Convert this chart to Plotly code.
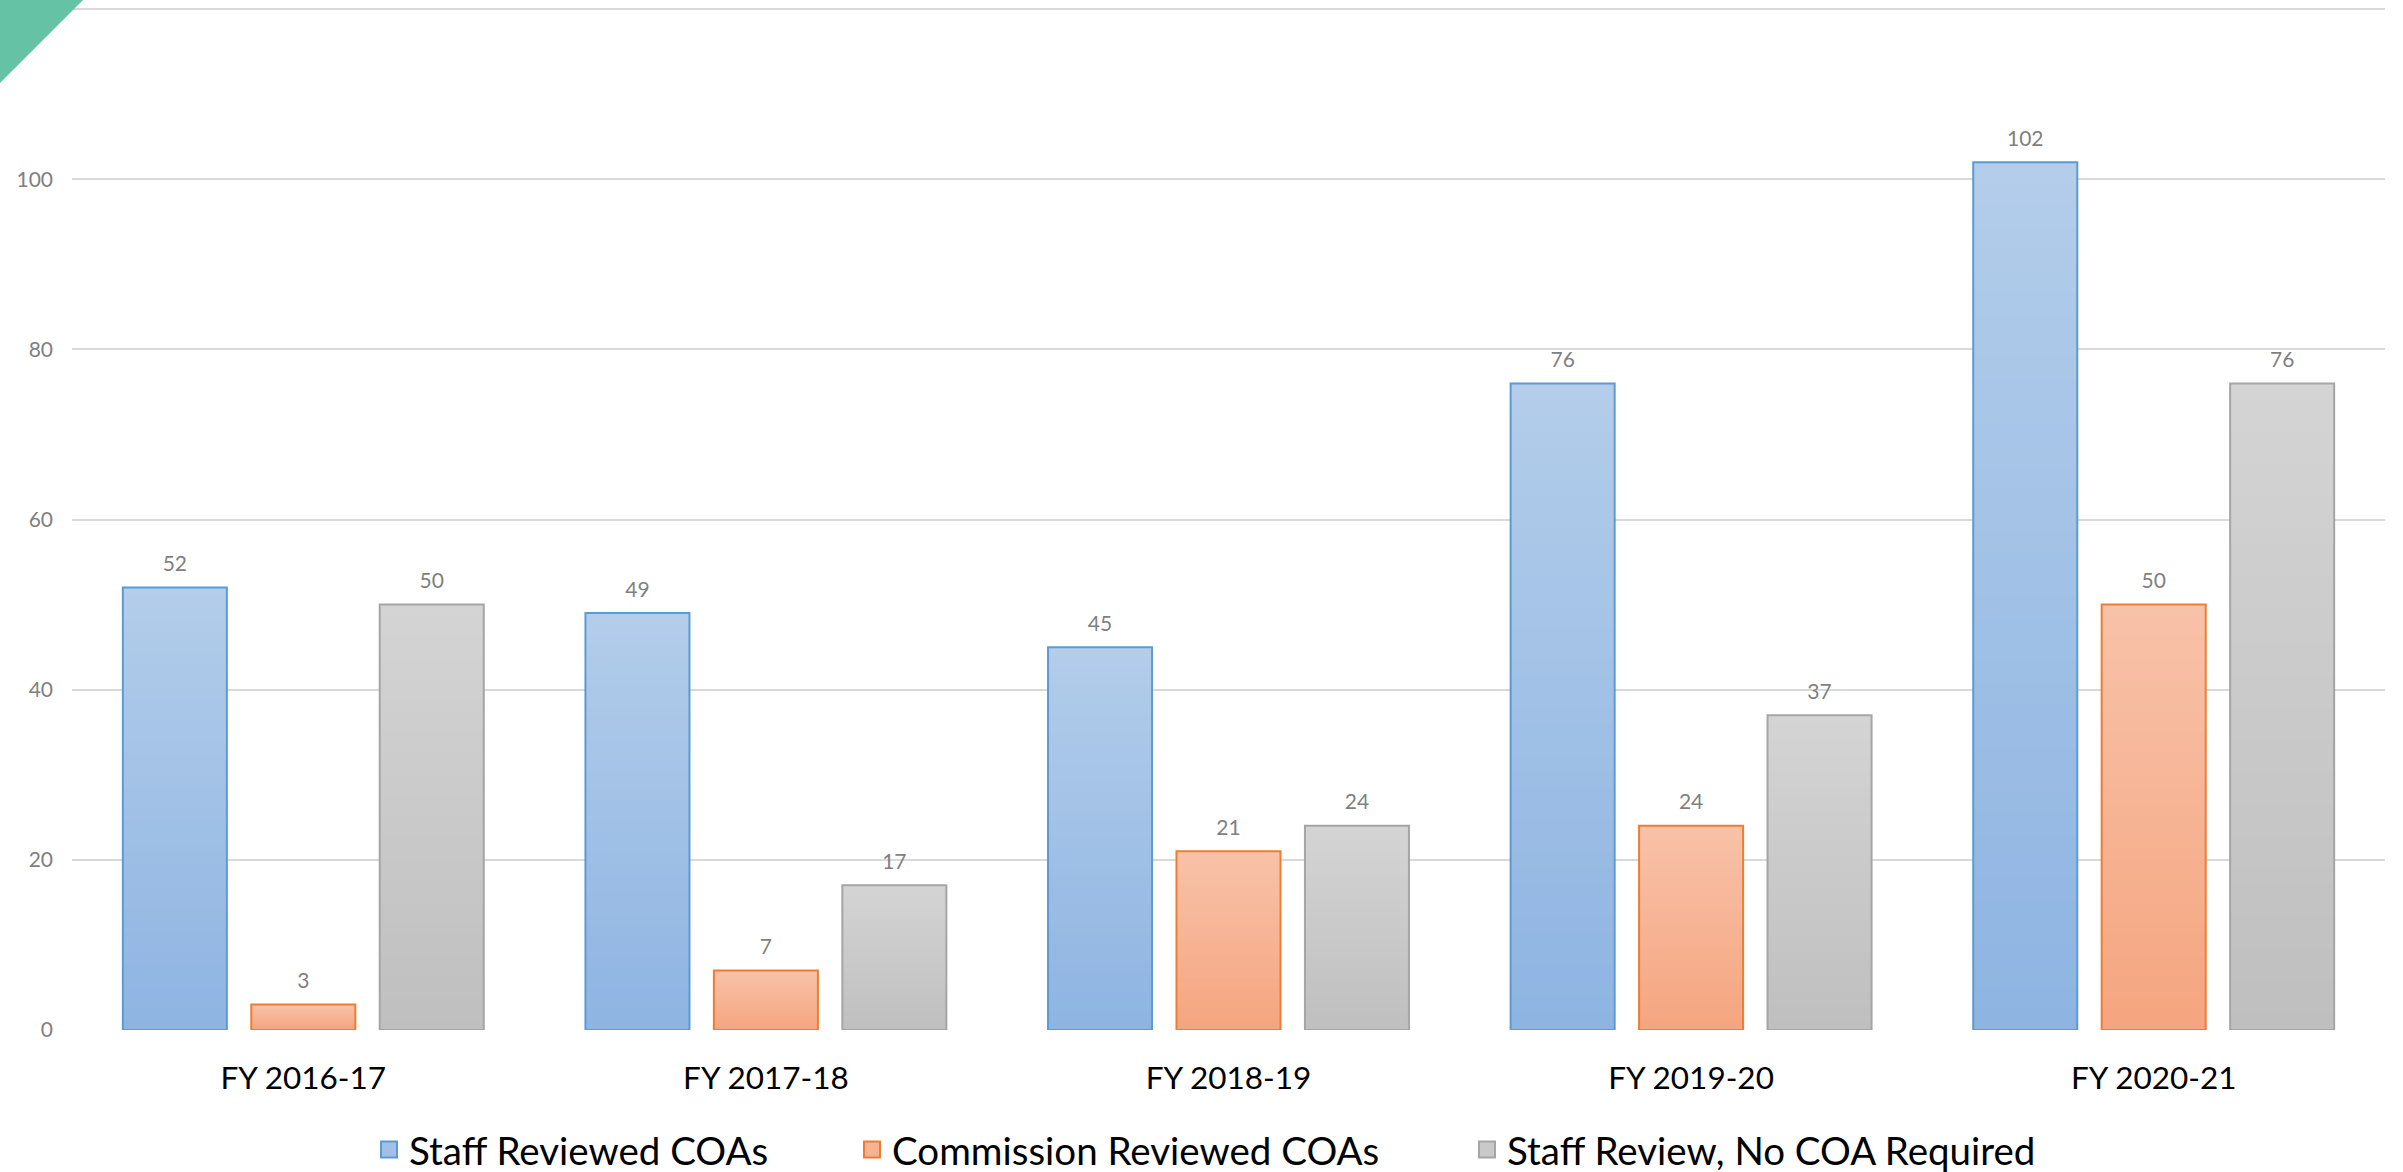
import plotly.graph_objects as go

# ---------------- data ----------------
categories = ["FY 2016-17", "FY 2017-18", "FY 2018-19", "FY 2019-20", "FY 2020-21"]
staff_reviewed = [52, 49, 45, 76, 102]
commission_reviewed = [3, 7, 21, 24, 50]
staff_no_coa = [50, 17, 24, 37, 76]
series_names = ["Staff Reviewed COAs", "Commission Reviewed COAs", "Staff Review, No COA Required"]
y_tick_values = [0, 20, 40, 60, 80, 100, 120]
y_tick_labels = ["0", "20", "40", "60", "80", "100", ""]

# ---------------- styles ----------------
outline_colors = ["#5b9bd5", "#ed7d31", "#a5a5a5"]
top_colors = ["#b3cdea", "#f8c2a9", "#d4d4d4"]
bottom_colors = ["#8eb4e2", "#f5a57f", "#bfbfbf"]
mid_colors = ["#a2c0e6", "#f6b393", "#c9c9c9"]
legend_x_px = [369, 852, 1467]

W, H = 2403, 1172
ML, MR, MT, MB = 72, 18, 8, 142
FONT = "Lato"
N_LAYERS = 40
LABEL_PAD = 1.1  # in axis units, gap between bar top and its value label


def hex_to_rgb(h):
    h = h.lstrip("#")
    return tuple(int(h[i:i + 2], 16) for i in (0, 2, 4))


def lerp(c1, c2, t):
    a, b = hex_to_rgb(c1), hex_to_rgb(c2)
    return "rgb(%d,%d,%d)" % tuple(round(a[i] + (b[i] - a[i]) * t) for i in range(3))


fig = go.Figure()
all_values = [staff_reviewed, commission_reviewed, staff_no_coa]

for idx, (name, vals) in enumerate(zip(series_names, all_values)):
    group = "g%d" % idx
    # gradient: layered bars, each shorter one drawn over the taller one
    for k in range(N_LAYERS):
        frac = 1 - k / N_LAYERS
        t = (k + 0.5) / N_LAYERS
        fig.add_bar(
            x=categories, y=[v * frac for v in vals], offsetgroup=group,
            marker=dict(color=lerp(top_colors[idx], bottom_colors[idx], t), line=dict(width=0)),
            showlegend=False, hoverinfo="skip",
        )
    # outline
    fig.add_bar(
        x=categories, y=vals, offsetgroup=group,
        marker=dict(color="rgba(0,0,0,0)", line=dict(color=outline_colors[idx], width=2)),
        showlegend=False, hoverinfo="skip",
    )
    # value labels
    fig.add_bar(
        x=categories, y=[LABEL_PAD] * len(vals), base=vals, offsetgroup=group,
        marker=dict(color="rgba(0,0,0,0)", line=dict(width=0)),
        text=[str(v) for v in vals], textposition="outside", constraintext="none",
        textfont=dict(family=FONT, size=21, color="#7f7f7f"), cliponaxis=False,
        showlegend=False, hoverinfo="skip",
    )
    # legend entry
    legend_id = "legend" if idx == 0 else "legend%d" % (idx + 1)
    fig.add_scatter(
        x=[None], y=[None], mode="markers", name=name, legend=legend_id,
        marker=dict(symbol="square", size=22, color=mid_colors[idx],
                    line=dict(color=outline_colors[idx], width=2)),
        hoverinfo="skip",
    )

legend_common = dict(
    orientation="h", xref="container", yref="container", xanchor="left", yanchor="middle",
    y=1 - 1150 / H, font=dict(family=FONT, size=38.5, color="#000000"),
    bgcolor="rgba(0,0,0,0)", borderwidth=0, itemsizing="trace",
)

fig.update_layout(
    width=W, height=H,
    margin=dict(l=ML, r=MR, t=MT, b=MB, pad=0),
    paper_bgcolor="white", plot_bgcolor="white",
    barmode="group", bargap=0.167, bargroupgap=0.19,
    font=dict(family=FONT),
    legend=dict(x=legend_x_px[0] / W, **legend_common),
    legend2=dict(x=legend_x_px[1] / W, **legend_common),
    legend3=dict(x=legend_x_px[2] / W, **legend_common),
    xaxis=dict(showgrid=False, showline=False, zeroline=False, ticks="",
               tickfont=dict(family=FONT, size=31.5, color="#000000"),
               ticklabelstandoff=26),
    yaxis=dict(range=[0, 120.12], tickvals=y_tick_values, ticktext=y_tick_labels,
               showgrid=True, gridcolor="#d9d9d9", gridwidth=2,
               zeroline=False, showline=False, ticks="",
               tickfont=dict(family=FONT, size=21, color="#7f7f7f"),
               ticklabelstandoff=18),
)

# green corner triangle (decorative)
px = lambda v: (v - ML) / (W - ML - MR)
py = lambda v: (H - MB - v) / (H - MT - MB)
fig.add_shape(
    type="path", xref="paper", yref="paper", layer="above",
    path="M %f,%f L %f,%f L %f,%f Z" % (px(-4), py(-4), px(87), py(-4), px(-4), py(87)),
    fillcolor="#66c2a5", line=dict(width=0),
)

fig.write_html("out.html", config={"displayModeBar": False},
               post_script="document.body.style.margin='0px';")
